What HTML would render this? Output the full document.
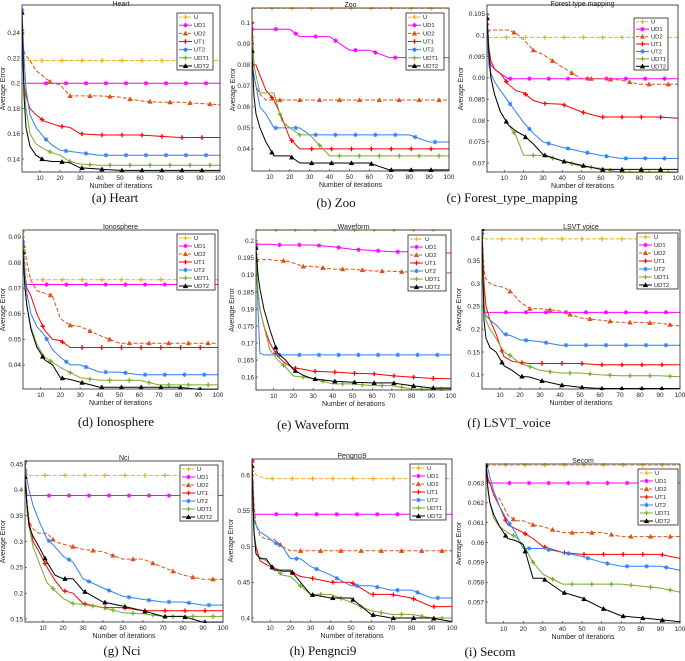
<!DOCTYPE html>
<html><head><meta charset="utf-8"><style>
html,body{margin:0;padding:0;background:#fff;}
svg{display:block;font-family:"Liberation Sans",sans-serif;}
</style></head><body>
<svg id="fig" width="685" height="661" viewBox="0 0 685 661" xmlns="http://www.w3.org/2000/svg"></svg>
<script>
const iters = [1,2,3,5,8,12,16,20,25,30,40,50,60,70,80,90,100];
const seriesNames = ["U","UD1","UD2","UT1","UT2","UDT1","UDT2"];
const xTicks = [10,20,30,40,50,60,70,80,90,100];

// (a) Heart
const heartU   = [0.23,0.219,0.218,0.218,0.218,0.218,0.218,0.218,0.218,0.218,0.218,0.218,0.218,0.218,0.218,0.218,0.218];
const heartUD1 = [0.226,0.2,0.2,0.2,0.2,0.2,0.2,0.2,0.2,0.2,0.2,0.2,0.2,0.2,0.2,0.2,0.2];
const heartUD2 = [0.24,0.225,0.222,0.218,0.21,0.205,0.2,0.199,0.19,0.19,0.19,0.189,0.186,0.185,0.185,0.184,0.183];
const heartUT1 = [0.242,0.2,0.19,0.18,0.175,0.17,0.168,0.166,0.165,0.16,0.159,0.159,0.159,0.158,0.157,0.157,0.157];
const heartUT2 = [0.258,0.22,0.195,0.175,0.165,0.157,0.151,0.147,0.146,0.145,0.143,0.143,0.143,0.143,0.143,0.143,0.143];
const heartUDT1= [0.24,0.2,0.18,0.16,0.152,0.148,0.145,0.143,0.138,0.136,0.135,0.135,0.135,0.135,0.135,0.135,0.135];
const heartUDT2= [0.256,0.19,0.165,0.15,0.143,0.139,0.138,0.138,0.137,0.133,0.132,0.131,0.131,0.131,0.131,0.131,0.131];
const heartTicks = [0.14,0.16,0.18,0.2,0.22,0.24];
const heartTickLabels = ["0.14","0.16","0.18","0.2","0.22","0.24"];

// (b) Zoo
const zooU   = [0.107,0.107,0.107,0.107,0.107,0.107,0.107,0.107,0.107,0.107,0.107,0.107,0.107,0.107,0.107,0.107,0.107];
const zooUD1 = [0.097,0.097,0.097,0.097,0.097,0.097,0.097,0.097,0.0935,0.0935,0.0935,0.087,0.087,0.0835,0.0835,0.0835,0.0835];
const zooUD2 = [0.08,0.075,0.07,0.066,0.0633,0.0633,0.0633,0.0633,0.0633,0.0633,0.0633,0.0633,0.0633,0.0633,0.0633,0.0633,0.0633];
const zooUT1 = [0.1,0.08,0.08,0.075,0.068,0.0633,0.055,0.045,0.04,0.04,0.04,0.04,0.04,0.04,0.04,0.04,0.04];
const zooUT2 = [0.08,0.075,0.07,0.06,0.0567,0.05,0.05,0.05,0.05,0.0467,0.0467,0.0467,0.0467,0.0467,0.0467,0.0433,0.0433];
const zooUDT1= [0.0933,0.08,0.075,0.0667,0.0667,0.0667,0.0533,0.05,0.0467,0.0467,0.0367,0.0367,0.0367,0.0367,0.0367,0.0367,0.0367];
const zooUDT2= [0.0867,0.065,0.0567,0.05,0.0433,0.0367,0.0367,0.0367,0.0333,0.0333,0.0333,0.0333,0.0333,0.03,0.03,0.03,0.03];
const zooTicks = [0.04,0.05,0.06,0.07,0.08,0.09,0.1];
const zooTickLabels = ["0.04","0.05","0.06","0.07","0.08","0.09","0.1"];

// (c) Forest type mapping
const forestU   = [0.101,0.0995,0.0995,0.0995,0.0995,0.0995,0.0995,0.0995,0.0995,0.0995,0.0995,0.0995,0.0995,0.0995,0.0995,0.0995,0.0995];
const forestUD1 = [0.1025,0.095,0.093,0.092,0.091,0.0898,0.0898,0.0898,0.0898,0.0898,0.0898,0.0898,0.0898,0.0898,0.0898,0.0898,0.0898];
const forestUD2 = [0.1012,0.1012,0.1012,0.1012,0.1012,0.1012,0.1005,0.099,0.0965,0.0955,0.0925,0.0898,0.0898,0.0895,0.0885,0.0885,0.0885];
const forestUT1 = [0.104,0.097,0.094,0.092,0.091,0.0885,0.087,0.0865,0.0847,0.084,0.0838,0.082,0.0808,0.0808,0.0808,0.0808,0.0805];
const forestUT2 = [0.101,0.093,0.091,0.089,0.087,0.0845,0.082,0.0795,0.077,0.075,0.0737,0.0727,0.0718,0.0711,0.0711,0.0711,0.0711];
const forestUDT1= [0.1048,0.096,0.09,0.086,0.082,0.079,0.0765,0.0718,0.0718,0.0718,0.0705,0.0692,0.0688,0.0678,0.0678,0.0678,0.0678];
const forestUDT2= [0.104,0.096,0.09,0.086,0.082,0.079,0.0775,0.0765,0.0745,0.072,0.0705,0.0695,0.0685,0.0685,0.0685,0.0685,0.0685];
const forestTicks = [0.07,0.075,0.08,0.085,0.09,0.095,0.1,0.105];
const forestTickLabels = ["0.07","0.075","0.08","0.085","0.09","0.095","0.1","0.105"];

// (d) Ionosphere
const ionoU   = [0.092,0.08,0.075,0.0733,0.0733,0.0733,0.0733,0.0733,0.0733,0.0733,0.0733,0.0733,0.0733,0.0733,0.0733,0.0733,0.0733];
const ionoUD1 = [0.081,0.0714,0.0714,0.0714,0.0714,0.0714,0.0714,0.0714,0.0714,0.0714,0.0714,0.0714,0.0714,0.0714,0.0714,0.0714,0.0714];
const ionoUD2 = [0.087,0.085,0.08,0.073,0.069,0.068,0.067,0.058,0.0555,0.055,0.0515,0.0485,0.0485,0.0485,0.0485,0.0485,0.0485];
const ionoUT1 = [0.086,0.075,0.07,0.067,0.06,0.0535,0.05,0.0495,0.0468,0.0468,0.0468,0.0468,0.0468,0.0468,0.0468,0.0468,0.0468];
const ionoUT2 = [0.088,0.075,0.068,0.06,0.055,0.0515,0.046,0.043,0.04,0.04,0.0372,0.0372,0.0362,0.0362,0.0362,0.0362,0.0362];
const ionoUDT1= [0.085,0.07,0.063,0.055,0.048,0.043,0.041,0.039,0.037,0.035,0.034,0.034,0.034,0.0322,0.0322,0.0322,0.0322];
const ionoUDT2= [0.084,0.07,0.063,0.054,0.047,0.042,0.04,0.035,0.0343,0.0333,0.0313,0.0313,0.0313,0.0313,0.0313,0.0305,0.0305];
const ionoTicks = [0.04,0.05,0.06,0.07,0.08,0.09];
const ionoTickLabels = ["0.04","0.05","0.06","0.07","0.08","0.09"];

// (e) Waveform
const waveU   = [0.2032,0.2032,0.2032,0.2032,0.2032,0.2032,0.2032,0.2032,0.2032,0.2032,0.2032,0.2032,0.2032,0.2032,0.2032,0.2032,0.2032];
const waveUD1 = [0.199,0.199,0.199,0.199,0.199,0.1988,0.1988,0.1988,0.1988,0.1988,0.1983,0.1975,0.1972,0.1968,0.1968,0.1966,0.1964];
const waveUD2 = [0.1945,0.1945,0.1945,0.1945,0.1945,0.1942,0.1942,0.1935,0.1925,0.1925,0.1917,0.1917,0.1912,0.1911,0.1908,0.1907,0.1906];
const waveUT1 = [0.194,0.185,0.18,0.175,0.17,0.166,0.164,0.1627,0.1623,0.1617,0.1615,0.1611,0.161,0.1604,0.16,0.1596,0.1595];
const waveUT2 = [0.198,0.18,0.167,0.1665,0.1665,0.1665,0.1665,0.1665,0.1665,0.1665,0.1665,0.1665,0.1665,0.1665,0.1665,0.1665,0.1665];
const waveUDT1= [0.196,0.185,0.18,0.175,0.168,0.165,0.163,0.1603,0.16,0.1595,0.158,0.158,0.1575,0.1575,0.1565,0.1565,0.1565];
const waveUDT2= [0.198,0.19,0.186,0.18,0.174,0.167,0.165,0.1622,0.1605,0.1595,0.1588,0.1585,0.1583,0.1583,0.1575,0.1568,0.1568];
const waveTicks = [0.16,0.165,0.17,0.175,0.18,0.185,0.19,0.195,0.2];
const waveTickLabels = ["0.16","0.165","0.17","0.175","0.18","0.185","0.19","0.195","0.2"];

// (f) LSVT voice
const lsvtU   = [0.41,0.398,0.398,0.398,0.398,0.398,0.398,0.398,0.398,0.398,0.398,0.398,0.398,0.398,0.398,0.398,0.398];
const lsvtUD1 = [0.41,0.237,0.237,0.237,0.237,0.237,0.237,0.237,0.237,0.237,0.237,0.237,0.237,0.237,0.237,0.237,0.237];
const lsvtUD2 = [0.42,0.33,0.31,0.3,0.295,0.292,0.28,0.26,0.245,0.245,0.24,0.225,0.22,0.215,0.215,0.213,0.207];
const lsvtUT1 = [0.42,0.3,0.25,0.22,0.19,0.14,0.13,0.127,0.125,0.125,0.125,0.125,0.122,0.122,0.122,0.122,0.122];
const lsvtUT2 = [0.41,0.25,0.23,0.22,0.21,0.19,0.185,0.177,0.175,0.173,0.165,0.165,0.165,0.165,0.165,0.165,0.165];
const lsvtUDT1= [0.42,0.26,0.22,0.2,0.18,0.15,0.14,0.125,0.118,0.11,0.104,0.104,0.1,0.098,0.098,0.098,0.096];
const lsvtUDT2= [0.42,0.22,0.18,0.16,0.15,0.12,0.11,0.097,0.095,0.088,0.078,0.073,0.07,0.07,0.07,0.07,0.07];
const lsvtTicks = [0.1,0.15,0.2,0.25,0.3,0.35,0.4];
const lsvtTickLabels = ["0.1","0.15","0.2","0.25","0.3","0.35","0.4"];

// (g) Nci
const nciU   = [0.435,0.428,0.428,0.428,0.428,0.428,0.428,0.428,0.428,0.428,0.428,0.428,0.428,0.428,0.428,0.428,0.428];
const nciUD1 = [0.43,0.389,0.389,0.389,0.389,0.389,0.389,0.389,0.389,0.389,0.389,0.389,0.389,0.389,0.389,0.389,0.389];
const nciUD2 = [0.44,0.38,0.34,0.325,0.316,0.316,0.3,0.295,0.29,0.285,0.28,0.266,0.266,0.25,0.235,0.227,0.227];
const nciUT1 = [0.43,0.37,0.34,0.3,0.28,0.25,0.225,0.205,0.2,0.18,0.172,0.172,0.166,0.166,0.166,0.166,0.166];
const nciUT2 = [0.455,0.42,0.4,0.37,0.34,0.305,0.29,0.272,0.26,0.228,0.21,0.194,0.188,0.183,0.183,0.177,0.177];
const nciUDT1= [0.435,0.36,0.33,0.29,0.26,0.22,0.205,0.19,0.18,0.178,0.172,0.162,0.16,0.155,0.155,0.155,0.155];
const nciUDT2= [0.425,0.37,0.33,0.31,0.29,0.26,0.235,0.228,0.228,0.205,0.183,0.175,0.166,0.155,0.155,0.144,0.144];
const nciTicks = [0.15,0.2,0.25,0.3,0.35,0.4,0.45];
const nciTickLabels = ["0.15","0.2","0.25","0.3","0.35","0.4","0.45"];

// (h) Pengnci9
const pengU   = [0.61,0.605,0.6,0.598,0.595,0.595,0.595,0.595,0.595,0.595,0.595,0.595,0.595,0.595,0.595,0.595,0.595];
const pengUD1 = [0.62,0.545,0.545,0.545,0.545,0.545,0.545,0.545,0.545,0.545,0.545,0.545,0.545,0.545,0.545,0.545,0.545];
const pengUD2 = [0.62,0.56,0.53,0.515,0.51,0.51,0.5,0.494,0.494,0.494,0.494,0.494,0.494,0.494,0.494,0.494,0.494];
const pengUT1 = [0.62,0.52,0.5,0.48,0.475,0.47,0.465,0.465,0.458,0.456,0.45,0.45,0.433,0.433,0.428,0.416,0.416];
const pengUT2 = [0.59,0.54,0.53,0.52,0.515,0.506,0.5,0.483,0.483,0.472,0.46,0.445,0.445,0.439,0.439,0.428,0.428];
const pengUDT1= [0.605,0.52,0.49,0.485,0.48,0.47,0.46,0.458,0.445,0.433,0.433,0.422,0.41,0.405,0.405,0.4,0.4];
const pengUDT2= [0.613,0.52,0.49,0.483,0.483,0.467,0.467,0.467,0.45,0.433,0.428,0.428,0.405,0.4,0.4,0.4,0.395];
const pengTicks = [0.4,0.45,0.5,0.55,0.6];
const pengTickLabels = ["0.4","0.45","0.5","0.55","0.6"];

// (i) Secom
const secomU   = [0.0639,0.0639,0.0639,0.0639,0.0639,0.0639,0.0639,0.0639,0.0639,0.0639,0.0639,0.0639,0.0639,0.0639,0.0639,0.0639,0.0639];
const secomUD1 = [0.0639,0.063,0.063,0.063,0.063,0.063,0.063,0.063,0.063,0.063,0.063,0.063,0.063,0.063,0.063,0.063,0.063];
const secomUD2 = [0.0639,0.0632,0.063,0.0624,0.0622,0.0614,0.0611,0.0611,0.0609,0.0608,0.0605,0.0605,0.0605,0.0603,0.0603,0.0603,0.0603];
const secomUT1 = [0.0639,0.0632,0.063,0.0624,0.0618,0.0609,0.0607,0.0605,0.0602,0.0598,0.0595,0.0594,0.0594,0.0594,0.0594,0.0594,0.0592];
const secomUT2 = [0.0639,0.0637,0.0633,0.0626,0.0618,0.0611,0.0605,0.0597,0.0597,0.0597,0.0595,0.0593,0.059,0.0588,0.0588,0.0588,0.0586];
const secomUDT1= [0.0639,0.0626,0.062,0.0612,0.0608,0.0605,0.0603,0.0599,0.059,0.0584,0.0579,0.0579,0.0579,0.0579,0.0578,0.0577,0.0575];
const secomUDT2= [0.0639,0.0627,0.062,0.0614,0.0608,0.0602,0.0601,0.0599,0.0582,0.0582,0.0575,0.0572,0.0567,0.0563,0.0562,0.0561,0.056];
const secomTicks = [0.057,0.058,0.059,0.06,0.061,0.062,0.063];
const secomTickLabels = ["0.057","0.058","0.059","0.06","0.061","0.062","0.063"];

const colors = ["#EDB120","#FF00FF","#D95319","#FF0000","#2F7FF5","#77AC30","#000000"];
const dashed = [true,false,true,false,false,false,false];
const markerKinds = ["plus","star","tri","plus","star","plus","tri"];
const NS = "http://www.w3.org/2000/svg";
const svg = document.getElementById("fig");

function mk(tag, attrs, parent){
  const e = document.createElementNS(NS, tag);
  for (const k in attrs) e.setAttribute(k, attrs[k]);
  (parent||svg).appendChild(e);
  return e;
}
function interp(vals, it){
  for (let i=0;i<iters.length-1;i++){
    if (it>=iters[i] && it<=iters[i+1]){
      const t=(it-iters[i])/(iters[i+1]-iters[i]);
      return vals[i]+(vals[i+1]-vals[i])*t;
    }
  }
  return vals[vals.length-1];
}
function drawMarker(g, kind, x, y, c){
  const s=2.3;
  let m;
  if (kind==="tri"){
    m = mk("polygon",{points:`${x},${y-s} ${x-s},${y+s*0.8} ${x+s},${y+s*0.8}`,fill:c,stroke:c,"stroke-width":0.5},g);
  } else if (kind==="star"){
    m = mk("path",{d:`M${x-s},${y}H${x+s}M${x},${y-s}V${y+s}M${x-s*0.7},${y-s*0.7}L${x+s*0.7},${y+s*0.7}M${x-s*0.7},${y+s*0.7}L${x+s*0.7},${y-s*0.7}`,stroke:c,"stroke-width":0.9,fill:"none"},g);
  } else {
    m = mk("path",{d:`M${x-s},${y}H${x+s}M${x},${y-s}V${y+s}`,stroke:c,"stroke-width":1.3,fill:"none"},g);
  }
  
  
}

function drawPanel(p){
  const g = mk("g",{});
  
  
  const sx = it => p.L + (it-1)/99*(p.R-p.L);
  const sy = v => p.B - (v-p.y0)/(p.y1-p.y0)*(p.B-p.T);
  const cid = "clip-"+p.id;
  const cp = mk("clipPath",{id:cid},g);
  mk("rect",{x:p.L,y:p.T-1,width:p.R-p.L,height:p.B-p.T+2},cp);
  const sg = mk("g",{"clip-path":`url(#${cid})`},g);
  p.series.forEach((vals,si)=>{
    const pts = iters.map((it,i)=>sx(it).toFixed(1)+","+sy(vals[i]).toFixed(1)).join(" ");
    const line = mk("polyline",{points:pts,fill:"none",stroke:colors[si],"stroke-width":1,"stroke-dasharray":dashed[si]?"4,2":"none"},sg);
    
    
    for (let k=0;k<10;k++){
      const it = Math.min(100, 1+10*k + (k===0?0:(si%3)*2));
      drawMarker(sg, markerKinds[si], sx(it), sy(interp(vals,it)), colors[si]);
    }
  });
  const fr = mk("rect",{x:p.L,y:p.T,width:p.R-p.L,height:p.B-p.T,fill:"none",stroke:"#222","stroke-width":0.8},g);
  
  
  xTicks.forEach(t=>{
    const x=sx(t);
    mk("line",{x1:x,x2:x,y1:p.B,y2:p.B-2,stroke:"#222","stroke-width":0.6},g);
    const tl = mk("text",{x:x,y:p.B+8,"font-size":6.5,"text-anchor":"middle",fill:"#222"},g);
    tl.textContent = t;
    
    
  });
  p.ticks.forEach((t,i)=>{
    const y=sy(t);
    mk("line",{x1:p.L,x2:p.L+2,y1:y,y2:y,stroke:"#222","stroke-width":0.6},g);
    const tl = mk("text",{x:p.L-2,y:y+2.3,"font-size":6.5,"text-anchor":"end",fill:"#222"},g);
    tl.textContent = p.tickLabels[i];
    
    
  });
  const tt = mk("text",{x:(p.L+p.R)/2,y:Math.max(p.T-1,6),"font-size":7,"text-anchor":"middle",fill:"#222"},g);
  tt.textContent = p.title;
  
  
  const xl = mk("text",{x:(p.L+p.R)/2,y:p.B+16,"font-size":7,"text-anchor":"middle",fill:"#222"},g);
  xl.textContent = "Number of iterations";
  
  
  const yx = p.yLabelX, yy=(p.T+p.B)/2;
  const yl = mk("text",{x:yx,y:yy,"font-size":7,"text-anchor":"middle",fill:"#222",transform:`rotate(-90 ${yx} ${yy})`},g);
  yl.textContent = "Average Error";
  
  
  const lg = mk("g",{},g);
  
  
  const lx=p.leg[0], ly=p.leg[1], lw=p.leg[2], lh=p.leg[3];
  mk("rect",{x:lx,y:ly,width:lw,height:lh,fill:"#fff",stroke:"#222","stroke-width":0.8},lg);
  const rowH = lh/7;
  seriesNames.forEach((n,si)=>{
    const cy = ly + rowH*(si+0.5);
    const e = mk("g",{},lg);
    
    
    mk("line",{x1:lx+2,x2:lx+15,y1:cy,y2:cy,stroke:colors[si],"stroke-width":1,"stroke-dasharray":dashed[si]?"3,1.5":"none"},e);
    drawMarker(e, markerKinds[si], lx+8.5, cy, colors[si]);
    const t = mk("text",{x:lx+17,y:cy+2,"font-size":5.8,fill:"#222"},e);
    t.textContent = n;
  });
  const c = mk("text",{x:p.cap[0],y:p.cap[1],"font-size":13,"font-family":"Liberation Serif, serif","text-anchor":"middle",fill:"#111"},g);
  c.textContent = p.caption;
  
  
}

const panels = [
 {id:"heart",title:"Heart",L:22,R:220,T:5,B:172,y0:0.1297,y1:0.262,ticks:heartTicks,tickLabels:heartTickLabels,
  series:[heartU,heartUD1,heartUD2,heartUT1,heartUT2,heartUDT1,heartUDT2],leg:[177,13,36,57],cap:[115,202],caption:"(a) Heart",yLabelX:5},
 {id:"zoo",title:"Zoo",L:252,R:449,T:8,B:171,y0:0.0295,y1:0.1071,ticks:zooTicks,tickLabels:zooTickLabels,
  series:[zooU,zooUD1,zooUD2,zooUT1,zooUT2,zooUDT1,zooUDT2],leg:[406,13,38,57],cap:[336,207],caption:"(b) Zoo",yLabelX:235},
 {id:"forest",title:"Forest type mapping",L:487,R:678,T:5,B:172,y0:0.0679,y1:0.1071,ticks:forestTicks,tickLabels:forestTickLabels,
  series:[forestU,forestUD1,forestUD2,forestUT1,forestUT2,forestUDT1,forestUDT2],leg:[634,18,34,52],cap:[512,202],caption:"(c) Forest_type_mapping",yLabelX:463},
 {id:"ionosphere",title:"Ionosphere",L:23,R:218,T:230,B:389,y0:0.0306,y1:0.0927,ticks:ionoTicks,tickLabels:ionoTickLabels,
  series:[ionoU,ionoUD1,ionoUD2,ionoUT1,ionoUT2,ionoUDT1,ionoUDT2],leg:[177,234,38,56],cap:[116,426],caption:"(d) Ionosphere",yLabelX:5},
 {id:"waveform",title:"Waveform",L:256,R:451,T:230,B:390,y0:0.1562,y1:0.2032,ticks:waveTicks,tickLabels:waveTickLabels,
  series:[waveU,waveUD1,waveUD2,waveUT1,waveUT2,waveUDT1,waveUDT2],leg:[408,235,38,56],cap:[313,429],caption:"(e) Waveform",yLabelX:234},
 {id:"lsvt",title:"LSVT voice",L:482,R:680,T:230,B:389,y0:0.069,y1:0.4175,ticks:lsvtTicks,tickLabels:lsvtTickLabels,
  series:[lsvtU,lsvtUD1,lsvtUD2,lsvtUT1,lsvtUT2,lsvtUDT1,lsvtUDT2],leg:[637,233,41,56],cap:[509,427],caption:"(f) LSVT_voice",yLabelX:461},
 {id:"nci",title:"Nci",L:25,R:223,T:461,B:622,y0:0.1442,y1:0.4558,ticks:nciTicks,tickLabels:nciTickLabels,
  series:[nciU,nciUD1,nciUD2,nciUT1,nciUT2,nciUDT1,nciUDT2],leg:[180,465,38,56],cap:[122,655],caption:"(g) Nci",yLabelX:5},
 {id:"pengnci9",title:"Pengnci9",L:252,R:452,T:459,B:622,y0:0.3944,y1:0.6224,ticks:pengTicks,tickLabels:pengTickLabels,
  series:[pengU,pengUD1,pengUD2,pengUT1,pengUT2,pengUDT1,pengUDT2],leg:[410,464,36,56],cap:[323,655],caption:"(h) Pengnci9",yLabelX:233},
 {id:"secom",title:"Secom",L:486,R:680,T:464,B:623,y0:0.05594,y1:0.06396,ticks:secomTicks,tickLabels:secomTickLabels,
  series:[secomU,secomUD1,secomUD2,secomUT1,secomUT2,secomUDT1,secomUDT2],leg:[638,469,40,56],cap:[490,656],caption:"(i) Secom",yLabelX:461}
];
panels.forEach(drawPanel);
</script>
</body></html>
